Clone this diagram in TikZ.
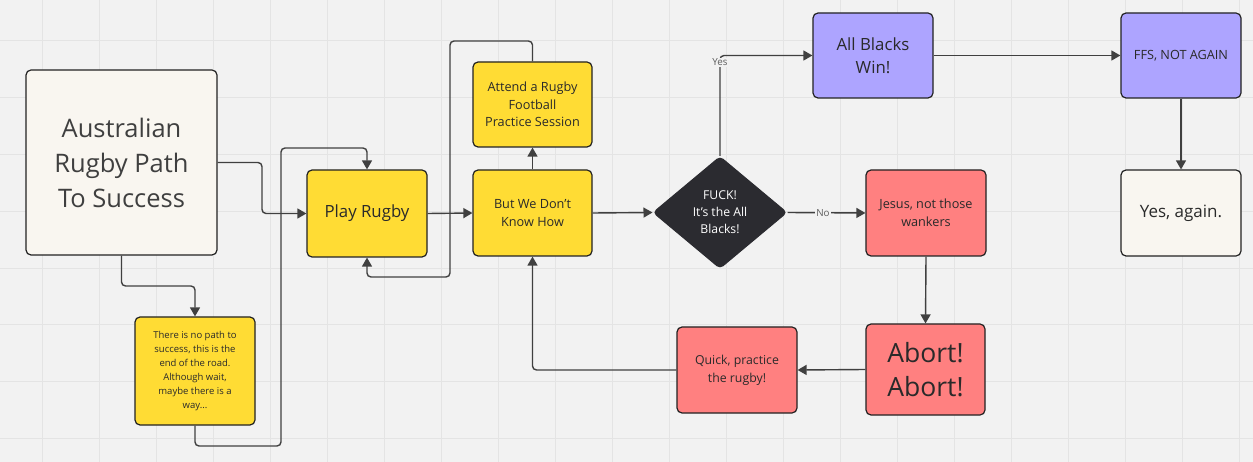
\documentclass[tikz,border=0pt]{standalone}
\usepackage{fontspec}
\setmainfont{Open Sans}
\usetikzlibrary{arrows.meta,shapes.geometric}
\definecolor{bg}{HTML}{F2F2F2}
\definecolor{gridc}{HTML}{E4E4E4}
\definecolor{edge}{HTML}{222222}
\definecolor{conncol}{HTML}{404040}
\definecolor{txt}{HTML}{2A2A2A}
\definecolor{cream}{HTML}{F9F6F0}
\definecolor{yel}{HTML}{FFDC34}
\definecolor{salmon}{HTML}{FF8080}
\definecolor{purp}{HTML}{ADA4FF}
\definecolor{dark}{HTML}{2B2B30}
\tikzset{
  box/.style={rectangle, rounded corners=5pt, draw=edge, line width=1.2pt, align=center, inner sep=2pt, text=txt},
  conn/.style={draw=conncol, line width=1.4pt, rounded corners=4pt, -{Triangle[length=9pt,width=10pt]}},
  lbl/.style={fill=bg, inner sep=1pt, text=conncol!85, font=\fontsize{9.8}{11}\selectfont},
  gridline/.style={draw=gridc, line width=1pt}
}
\begin{document}
\begin{tikzpicture}[x=1pt,y=-1pt]
\useasboundingbox (0,0) rectangle (1253,462);
\fill[bg] (0,0) rectangle (1253,462);
\foreach \i in {0,...,21} \draw[gridline] ({42+57*\i},0) -- ({42+57*\i},462);
\foreach \j in {0,...,7} \draw[gridline] (0,{41+56.8*\j}) -- (1253,{41+56.8*\j});

\node[box, fill=cream, minimum width=191pt, minimum height=185pt, font=\fontsize{25.5}{35}\selectfont, text=txt!90] (aus) at (121.5,162.5) {Australian\\Rugby Path\\To Success};
\node[box, fill=yel, minimum width=120pt, minimum height=108pt, font=\fontsize{9.5}{14}\selectfont] (there) at (195,371) {There is no path to\\success, this is the\\end of the road.\\Although wait,\\maybe there is a\\way...};
\node[box, fill=yel, minimum width=120pt, minimum height=87pt, font=\fontsize{16.8}{20}\selectfont] (play) at (367,213.5) {Play Rugby};
\node[box, fill=yel, minimum width=119pt, minimum height=85pt, font=\fontsize{12.7}{17.7}\selectfont] (attend) at (532.5,104.5) {Attend a Rugby\\Football\\Practice Session};
\node[box, fill=yel, minimum width=119pt, minimum height=86pt, font=\fontsize{12.7}{18}\selectfont] (bwd) at (532.5,213) {But We Don't\\Know How};
\node[diamond, draw=dark, fill=dark, rounded corners=4pt, line width=1pt, inner sep=0pt, minimum width=134pt, minimum height=112pt, align=center, text=white, font=\fontsize{12.2}{17}\selectfont] (dia) at (720,212.5) {FUCK!\\It's the All\\Blacks!};
\node[box, fill=purp, minimum width=120pt, minimum height=85pt, font=\fontsize{16.8}{23}\selectfont] (ab) at (873,55.5) {All Blacks\\Win!};
\node[box, fill=salmon, minimum width=120pt, minimum height=86pt, font=\fontsize{12.7}{18}\selectfont] (jes) at (926,213) {Jesus, not those\\wankers};
\node[box, fill=salmon, minimum width=119pt, minimum height=91pt, font=\fontsize{26.5}{34}\selectfont] (abort) at (925.5,369.5) {Abort!\\Abort!};
\node[box, fill=salmon, minimum width=120pt, minimum height=86pt, font=\fontsize{12.3}{18}\selectfont] (quick) at (737,370) {Quick, practice\\the rugby!};
\node[box, fill=purp, minimum width=120pt, minimum height=85pt, font=\fontsize{12.7}{16}\selectfont] (ffs) at (1181,55.5) {FFS, NOT AGAIN};
\node[box, fill=cream, minimum width=120pt, minimum height=86pt, font=\fontsize{17}{20}\selectfont] (yes) at (1181,213) {Yes, again.};

\coordinate (c1) at (262,213.5);
\coordinate (c2) at (121.5,286);
\coordinate (c3a) at (281,446);
\coordinate (c3b) at (281,148);
\coordinate (c6a) at (450,41);
\coordinate (c6b) at (450,277);

\draw[conn] (aus.east) -| (c1) -- (play.west);
\draw[conn] (aus.south) -- (c2) -| (there.north);
\draw[conn] (there.south) |- (c3a) -- (c3b) -| (play.north);
\draw[conn] (play.east) -- (bwd.west);
\draw[conn] (bwd.north) -- (attend.south);
\draw[conn] (attend.north) |- (c6a) -- (c6b) -| (play.south);
\draw[conn] (bwd.east) -- (dia.west);
\draw[conn] (dia.north) |- (ab.west);
\node[lbl] (yeslbl) at (720,62.5) {Yes};
\draw[conn] (dia.east) -- (jes.west);
\node[lbl] (nolbl) at (823,213) {No};
\draw[conn] (ab.east) -- (ffs.west);
\draw[conn] (ffs.south) -- (yes.north);
\draw[conn] (jes.south) -- (abort.north);
\draw[conn] (abort.west) -- (quick.east);
\draw[conn] (quick.west) -| (bwd.south);
\end{tikzpicture}
\end{document}
